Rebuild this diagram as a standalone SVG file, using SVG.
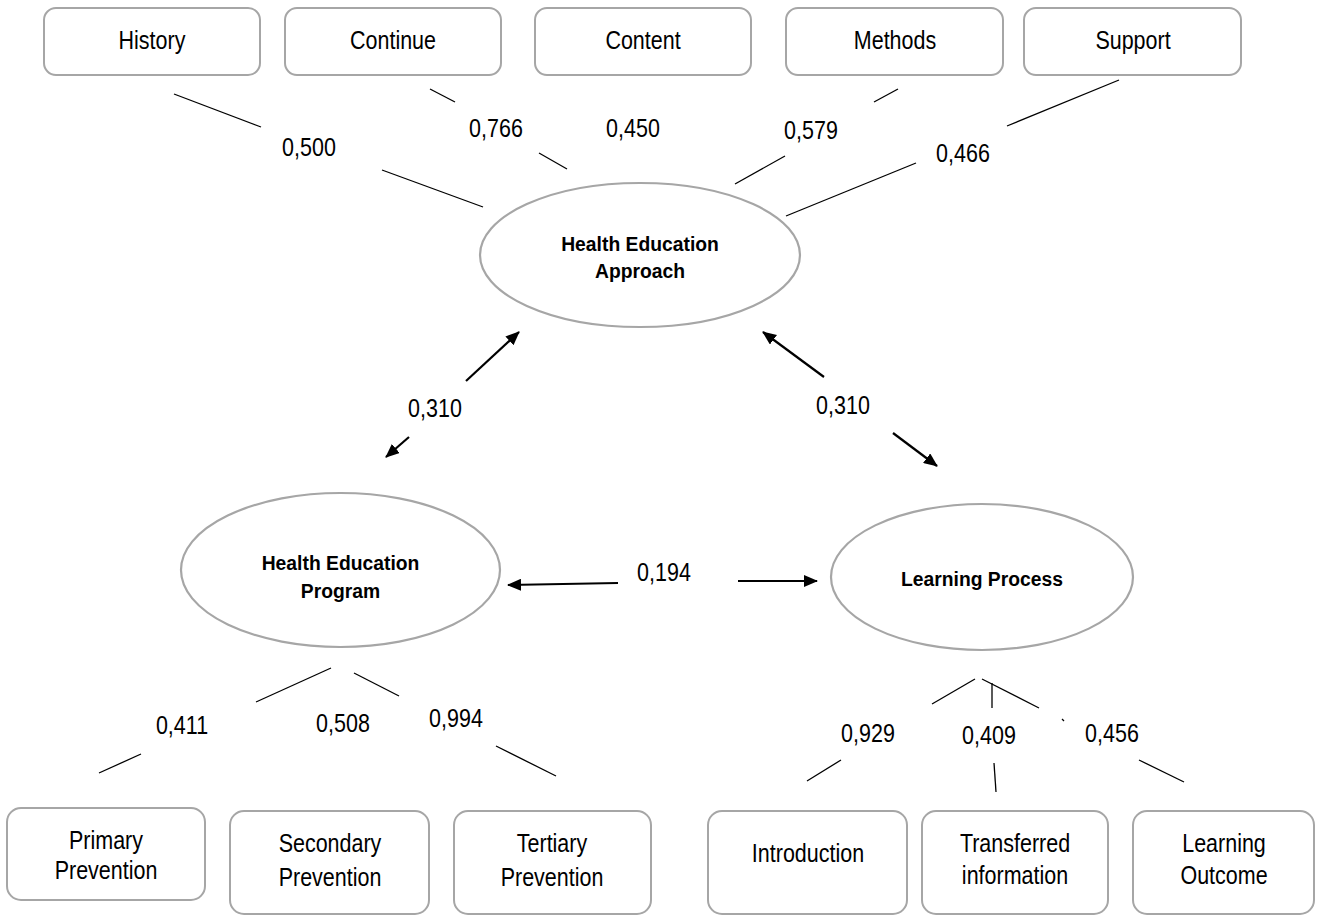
<svg xmlns="http://www.w3.org/2000/svg" width="1317" height="916" viewBox="0 0 1317 916">
<style>
.box{fill:#fff;stroke:#a6a6a6;stroke-width:2}
.ell{fill:#fff;stroke:#a6a6a6;stroke-width:2.2}
.t{font-family:"Liberation Sans",Arial,sans-serif;font-size:25px;fill:#000;text-anchor:middle}
.b{font-family:"Liberation Sans",Arial,sans-serif;font-size:21px;font-weight:bold;fill:#000;text-anchor:middle}
.ln{stroke:#000;stroke-width:1.3;fill:none}
.ar{stroke:#000;stroke-width:2.2;fill:none;marker-end:url(#ah)}
</style>
<defs>
<marker id="ah" viewBox="0 0 14 12" refX="13" refY="6" markerWidth="14" markerHeight="12" markerUnits="userSpaceOnUse" orient="auto">
<path d="M0,0 L14,6 L0,12 Z" fill="#000"/>
</marker>
</defs>
<rect width="1317" height="916" fill="#fff"/>
<g id="connectors">
<line class="ln" x1="174" y1="94" x2="261" y2="127"/>
<line class="ln" x1="382" y1="170" x2="483" y2="207"/>
<line class="ln" x1="430" y1="89" x2="455" y2="102"/>
<line class="ln" x1="539" y1="153" x2="567" y2="169"/>
<line class="ln" x1="898" y1="89" x2="874" y2="102"/>
<line class="ln" x1="785" y1="156" x2="735" y2="184"/>
<line class="ln" x1="1119" y1="80" x2="1007" y2="126"/>
<line class="ln" x1="916" y1="163" x2="786" y2="216"/>
<line class="ar" x1="466" y1="381" x2="519" y2="332"/>
<line class="ar" x1="409" y1="437" x2="386" y2="457"/>
<line class="ar" x1="824" y1="377" x2="763" y2="332"/>
<line class="ar" x1="893" y1="433" x2="937" y2="466"/>
<line class="ar" x1="618" y1="583" x2="508" y2="585"/>
<line class="ar" x1="738" y1="581" x2="817" y2="581"/>
<line class="ln" x1="331" y1="668" x2="256" y2="702"/>
<line class="ln" x1="354" y1="673" x2="399" y2="696"/>
<line class="ln" x1="141" y1="754" x2="99" y2="773"/>
<line class="ln" x1="496" y1="746" x2="556" y2="776"/>
<line class="ln" x1="975" y1="679" x2="932" y2="704"/>
<line class="ln" x1="992" y1="683" x2="992" y2="708"/>
<line class="ln" x1="982" y1="679" x2="1039" y2="708"/>
<line class="ln" x1="1062" y1="719" x2="1064" y2="721"/>
<line class="ln" x1="841" y1="760" x2="807" y2="781"/>
<line class="ln" x1="994" y1="763" x2="996" y2="792"/>
<line class="ln" x1="1139" y1="760" x2="1184" y2="782"/>
</g>
<g id="labels">
<text class="t" transform="translate(309,156) scale(0.86,1)">0,500</text>
<text class="t" transform="translate(496,137) scale(0.86,1)">0,766</text>
<text class="t" transform="translate(633,137) scale(0.86,1)">0,450</text>
<text class="t" transform="translate(811,139) scale(0.86,1)">0,579</text>
<text class="t" transform="translate(963,162) scale(0.86,1)">0,466</text>
<text class="t" transform="translate(435,417) scale(0.86,1)">0,310</text>
<text class="t" transform="translate(843,414) scale(0.86,1)">0,310</text>
<text class="t" transform="translate(664,581) scale(0.86,1)">0,194</text>
<text class="t" transform="translate(182,734) scale(0.86,1)">0,411</text>
<text class="t" transform="translate(343,732) scale(0.86,1)">0,508</text>
<text class="t" transform="translate(456,727) scale(0.86,1)">0,994</text>
<text class="t" transform="translate(868,742) scale(0.86,1)">0,929</text>
<text class="t" transform="translate(989,744) scale(0.86,1)">0,409</text>
<text class="t" transform="translate(1112,742) scale(0.86,1)">0,456</text>
</g>
<g id="history"><rect class="box" x="44" y="8" width="216" height="67" rx="12"/><text class="t" transform="translate(152,49) scale(0.86,1)">History</text></g>
<g id="continue"><rect class="box" x="285" y="8" width="216" height="67" rx="12"/><text class="t" transform="translate(393,49) scale(0.86,1)">Continue</text></g>
<g id="content"><rect class="box" x="535" y="8" width="216" height="67" rx="12"/><text class="t" transform="translate(643,49) scale(0.86,1)">Content</text></g>
<g id="methods"><rect class="box" x="786" y="8" width="217" height="67" rx="12"/><text class="t" transform="translate(895,49) scale(0.86,1)">Methods</text></g>
<g id="support"><rect class="box" x="1024" y="8" width="217" height="67" rx="12"/><text class="t" transform="translate(1133,49) scale(0.86,1)">Support</text></g>
<g id="hea"><ellipse class="ell" cx="640" cy="255" rx="160" ry="72"/><text class="b" transform="translate(640,251) scale(0.92,1)">Health Education</text><text class="b" transform="translate(640,278) scale(0.92,1)">Approach</text></g>
<g id="hep"><ellipse class="ell" cx="340.5" cy="570" rx="159.5" ry="77"/><text class="b" transform="translate(340.5,570) scale(0.92,1)">Health Education</text><text class="b" transform="translate(340.5,598) scale(0.92,1)">Program</text></g>
<g id="lp"><ellipse class="ell" cx="982" cy="577" rx="151" ry="73"/><text class="b" transform="translate(982,586) scale(0.92,1)">Learning Process</text></g>
<g id="primary"><rect class="box" x="7" y="808" width="198" height="92" rx="14"/><text class="t" transform="translate(106,849) scale(0.86,1)">Primary</text><text class="t" transform="translate(106,879) scale(0.86,1)">Prevention</text></g>
<g id="secondary"><rect class="box" x="230" y="811" width="199" height="103" rx="14"/><text class="t" transform="translate(330,852) scale(0.86,1)">Secondary</text><text class="t" transform="translate(330,886) scale(0.86,1)">Prevention</text></g>
<g id="tertiary"><rect class="box" x="454" y="811" width="197" height="103" rx="14"/><text class="t" transform="translate(552,852) scale(0.86,1)">Tertiary</text><text class="t" transform="translate(552,886) scale(0.86,1)">Prevention</text></g>
<g id="introduction"><rect class="box" x="708" y="811" width="199" height="103" rx="14"/><text class="t" transform="translate(808,862) scale(0.86,1)">Introduction</text></g>
<g id="transferred"><rect class="box" x="922" y="811" width="186" height="103" rx="14"/><text class="t" transform="translate(1015,852) scale(0.86,1)">Transferred</text><text class="t" transform="translate(1015,884) scale(0.86,1)">information</text></g>
<g id="outcome"><rect class="box" x="1133" y="811" width="181" height="103" rx="14"/><text class="t" transform="translate(1224,852) scale(0.86,1)">Learning</text><text class="t" transform="translate(1224,884) scale(0.86,1)">Outcome</text></g>
</svg>
